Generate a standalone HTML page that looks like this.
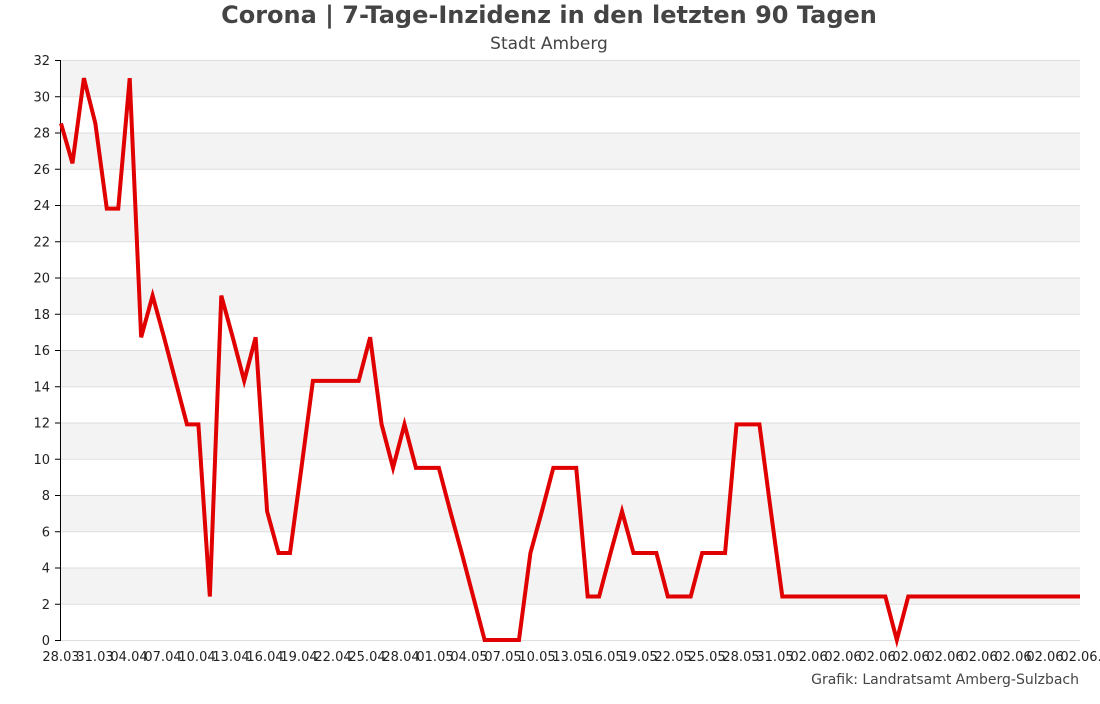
<!DOCTYPE html>
<html><head><meta charset="utf-8"><style>
body{margin:0;background:#fff;width:1100px;height:700px;overflow:hidden;font-family:"DejaVu Sans","Liberation Sans",sans-serif}
</style></head><body>
<svg id="c" width="1100" height="700" xmlns="http://www.w3.org/2000/svg">
<text x="549" y="23" text-anchor="middle" font-size="24" font-weight="bold" fill="#444">Corona | 7-Tage-Inzidenz in den letzten 90 Tagen</text>
<text x="549" y="49" text-anchor="middle" font-size="17" fill="#444">Stadt Amberg</text>
<text x="1079" y="684" text-anchor="end" font-size="14" fill="#444">Grafik: Landratsamt Amberg-Sulzbach</text>
<g id="bands"></g><g id="yt"></g><g id="xt"></g>
<line x1="60.5" y1="60" x2="60.5" y2="641" stroke="#000"/>
<g id="series"></g>
</svg>
<script>
const values=[28.5,26.3,31,28.5,23.8,23.8,31,16.7,19,16.7,14.3,11.9,11.9,2.4,19,16.7,14.3,16.7,7.1,4.8,4.8,9.5,14.3,14.3,14.3,14.3,14.3,16.7,11.9,9.5,11.9,9.5,9.5,9.5,7.1,4.8,2.4,0,0,0,0,4.8,7.1,9.5,9.5,9.5,2.4,2.4,4.8,7.1,4.8,4.8,4.8,2.4,2.4,2.4,4.8,4.8,4.8,11.9,11.9,11.9,7.1,2.4,2.4,2.4,2.4,2.4,2.4,2.4,2.4,2.4,2.4,0,2.4,2.4,2.4,2.4,2.4,2.4,2.4,2.4,2.4,2.4,2.4,2.4,2.4,2.4,2.4,2.4];
const xLabels=["28.03","31.03","04.04","07.04","10.04","13.04","16.04","19.04","22.04","25.04","28.04","01.05","04.05","07.05","10.05","13.05","16.05","19.05","22.05","25.05","28.05","31.05","02.06","02.06","02.06","02.06","02.06","02.06","02.06","02.06.","02.06."];
const yTicks=[0,2,4,6,8,10,12,14,16,18,20,22,24,26,28,30,32];
const NS="http://www.w3.org/2000/svg";
const X0=61,X1=1080,Y0=640,Y1=60,YMAX=32;
const xs=i=>X0+i*(X1-X0)/(values.length-1);
const ys=v=>Y0-v*(Y0-Y1)/YMAX;
function mk(t,a,p){const e=document.createElementNS(NS,t);for(const k in a)e.setAttribute(k,a[k]);p.appendChild(e);return e;}
const bands=document.getElementById('bands'),yt=document.getElementById('yt'),xt=document.getElementById('xt');
yTicks.forEach((v,k)=>{
 if(k<yTicks.length-1&&k%2===1){const r=mk('rect',{x:X0,y:ys(v+2),width:X1-X0,height:ys(v)-ys(v+2),fill:'#f3f3f3'},bands);
 
 }
 const l=mk('line',{x1:X0,x2:X1,y1:ys(v)+0.5,y2:ys(v)+0.5,stroke:'#dedede'},yt);
 
 
 const tk=mk('line',{x1:55,x2:60,y1:ys(v)+0.5,y2:ys(v)+0.5,stroke:'#000'},yt);
 
 
 const t=mk('text',{x:50,y:ys(v)+5,'text-anchor':'end','font-size':13,fill:'#222'},yt);t.textContent=v;
 
 
});
xLabels.forEach((s,i)=>{
 const t=mk('text',{x:X0+i*34,y:661,'text-anchor':'middle','font-size':13,fill:'#222'},xt);t.textContent=s;
 
 
});
const p=mk('polyline',{points:values.map((v,i)=>xs(i)+','+ys(v)).join(' '),fill:'none',stroke:'#e00000','stroke-width':4,'stroke-linejoin':'miter'},document.getElementById('series'));


</script>
</body></html>
